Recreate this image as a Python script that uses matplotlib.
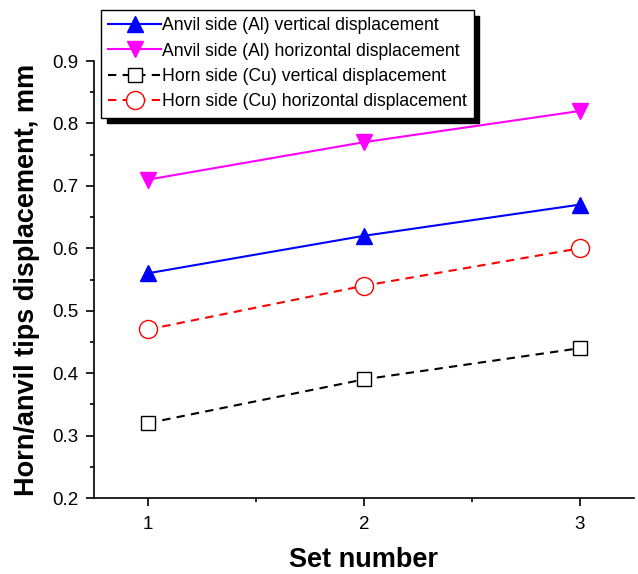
import matplotlib.pyplot as plt
from matplotlib.ticker import MultipleLocator

plt.rcParams['font.family'] = ['Liberation Sans', 'DejaVu Sans']

# Data
set_number = [1, 2, 3]
anvil_vertical = [0.56, 0.62, 0.67]
anvil_horizontal = [0.71, 0.77, 0.82]
horn_vertical = [0.32, 0.39, 0.44]
horn_horizontal = [0.47, 0.54, 0.60]

fig = plt.figure(figsize=(6.38, 5.74), dpi=100)
ax = fig.add_axes([0.1473, 0.1324, 0.8464, 0.7613])

ax.plot(set_number, anvil_vertical, color='blue', marker='^', ms=12, lw=1.5,
        label='Anvil side (Al) vertical displacement')
ax.plot(set_number, anvil_horizontal, color='magenta', marker='v', ms=12, lw=1.5,
        label='Anvil side (Al) horizontal displacement')
ax.plot(set_number, horn_vertical, color='black', ls='--', dashes=(4, 3), marker='s', ms=10,
        mfc='white', mec='black', lw=1.5, label='Horn side (Cu) vertical displacement')
ax.plot(set_number, horn_horizontal, color='red', ls='--', dashes=(4, 3), marker='o', ms=13,
        mfc='white', mec='red', lw=1.5, label='Horn side (Cu) horizontal displacement')

ax.set_xlim(0.75, 3.25)
ax.set_ylim(0.2, 0.9)
ax.set_xticks(set_number)
ax.xaxis.set_minor_locator(MultipleLocator(0.5))
ax.yaxis.set_major_locator(MultipleLocator(0.1))
ax.yaxis.set_minor_locator(MultipleLocator(0.05))
ax.tick_params(which='major', direction='out', length=6, width=1.2, labelsize=13.5, pad=5)
ax.tick_params(axis='x', which='major', pad=7)
ax.tick_params(which='minor', direction='out', length=3, width=1.2)
for s in ['top', 'right']:
    ax.spines[s].set_visible(False)
for s in ['left', 'bottom']:
    ax.spines[s].set_linewidth(1.2)

ax.set_xlabel('Set number', fontsize=19.5, fontweight='bold', labelpad=10)
ax.set_ylabel('Horn/anvil tips displacement, mm', fontsize=19.5, fontweight='bold', labelpad=9)

leg = ax.legend(loc='upper left', bbox_to_anchor=(101 / 638, 1 - 10 / 574),
                bbox_transform=fig.transFigure, borderaxespad=0, fontsize=12.7,
                frameon=True, fancybox=False, edgecolor='black', framealpha=1,
                shadow={'color': 'black', 'alpha': 1, 'ox': 4, 'oy': -4},
                handlelength=3.0, handletextpad=0.05, labelspacing=0.48,
                borderpad=0.4)
leg.get_frame().set_linewidth(1.0)

fig.savefig('out.png', dpi=100)
